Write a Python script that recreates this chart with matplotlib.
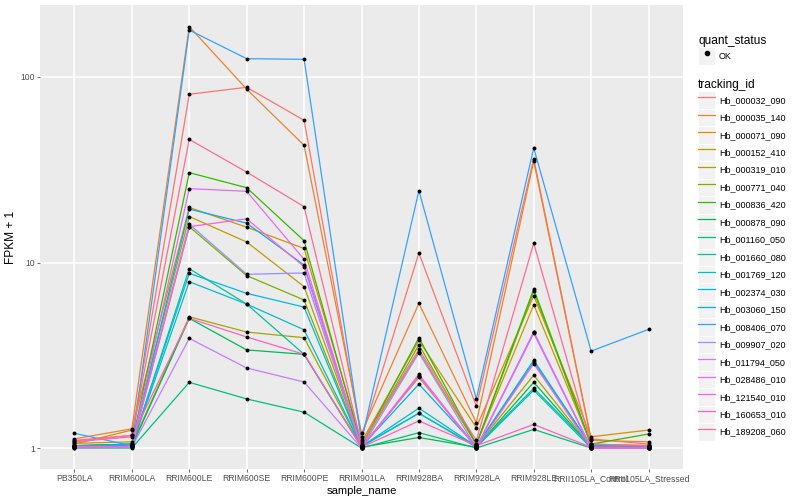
import matplotlib
matplotlib.use('Agg')
import matplotlib.pyplot as plt
from matplotlib import font_manager
from matplotlib.lines import Line2D
from matplotlib.patches import Rectangle
from matplotlib.legend_handler import HandlerLine2D
import numpy as np

plt.rcParams['font.family'] = ['Liberation Sans', 'DejaVu Sans']

# narrow face for the tick labels if there is one (R draws them quite tight)
installed = {f.name for f in font_manager.fontManager.ttflist}
if 'Liberation Sans Narrow' in installed:
    tick_font, tick_size = 'Liberation Sans Narrow', 7.2
else:
    tick_font, tick_size = 'Liberation Sans', 6.2

# x categories
samples = ['PB350LA', 'RRIM600LA', 'RRIM600LE', 'RRIM600SE', 'RRIM600PE',
           'RRIM901LA', 'RRIM928BA', 'RRIM928LA', 'RRIM928LE',
           'RRII105LA_Control', 'RRII105LA_Stressed']

tracking_ids = ['Hb_000032_090', 'Hb_000035_140', 'Hb_000071_090', 'Hb_000152_410',
                'Hb_000319_010', 'Hb_000771_040', 'Hb_000836_420', 'Hb_000878_090',
                'Hb_001160_050', 'Hb_001660_080', 'Hb_001769_120', 'Hb_002374_030',
                'Hb_003060_150', 'Hb_008406_070', 'Hb_009907_020', 'Hb_011794_050',
                'Hb_028486_010', 'Hb_121540_010', 'Hb_160653_010', 'Hb_189208_060']

# ggplot hue palette, 20 levels
colors = ['#F8766D', '#EA8331', '#D89000', '#C09B00', '#A3A500', '#7CAE00',
          '#39B600', '#00BB4E', '#00BF7D', '#00C1A3', '#00BFC4', '#00BAE0',
          '#00B0F6', '#35A2FF', '#9590FF', '#C77CFF', '#E76BF3', '#FA62DB',
          '#FF62BC', '#FF6C91']

# FPKM + 1 per gene, in sample order
hb_000032_090 = [1.10, 1.17, 80.7, 88.0, 58.4, 1.14, 11.25, 1.68, 36.3, 1.12, 1.05]
hb_000035_140 = [1.12, 1.27, 187.0, 86.0, 42.8, 1.20, 6.03, 1.37, 35.1, 1.10, 1.08]
hb_000071_090 = [1.05, 1.25, 19.8, 15.5, 11.9, 1.08, 3.80, 1.29, 6.62, 1.15, 1.25]
hb_000152_410 = [1.06, 1.08, 17.7, 12.9, 7.41, 1.04, 3.30, 1.05, 5.92, 1.05, 1.03]
hb_000319_010 = [1.03, 1.04, 5.10, 4.22, 3.93, 1.02, 2.40, 1.02, 2.47, 1.01, 1.01]
hb_000771_040 = [1.03, 1.05, 15.6, 8.50, 6.28, 1.03, 3.60, 1.04, 7.00, 1.03, 1.02]
hb_000836_420 = [1.03, 1.05, 30.5, 25.3, 13.1, 1.03, 3.93, 1.05, 7.20, 1.05, 1.19]
hb_000878_090 = [1.01, 1.02, 5.00, 3.38, 3.20, 1.01, 1.14, 1.01, 2.26, 1.01, 1.00]
hb_001160_050 = [1.00, 1.00, 2.26, 1.84, 1.56, 1.00, 1.21, 1.00, 1.26, 1.00, 1.00]
hb_001660_080 = [1.02, 1.03, 9.26, 5.97, 3.20, 1.02, 1.54, 1.02, 2.10, 1.02, 1.01]
hb_001769_120 = [1.02, 1.03, 7.88, 5.97, 4.34, 1.02, 1.54, 1.01, 2.05, 1.00, 1.00]
hb_002374_030 = [1.02, 1.04, 8.74, 6.82, 5.75, 1.02, 1.64, 1.02, 2.98, 1.02, 1.02]
hb_003060_150 = [1.02, 1.05, 19.4, 16.3, 9.69, 1.02, 2.21, 1.02, 2.90, 1.03, 1.02]
hb_008406_070 = [1.20, 1.03, 179.0, 125.5, 124.5, 1.10, 24.4, 1.84, 41.4, 3.33, 4.36]
hb_009907_020 = [1.01, 1.02, 16.1, 8.64, 8.78, 1.00, 3.26, 1.00, 4.15, 1.00, 1.00]
hb_011794_050 = [1.00, 1.01, 3.90, 2.70, 2.27, 1.00, 2.45, 1.00, 4.20, 1.00, 1.00]
hb_028486_010 = [1.02, 1.02, 25.0, 24.2, 10.4, 1.00, 2.50, 1.00, 4.24, 1.00, 1.00]
hb_121540_010 = [1.01, 1.02, 15.6, 17.2, 9.49, 1.00, 2.45, 1.00, 2.85, 1.00, 1.00]
hb_160653_010 = [1.08, 1.15, 5.00, 3.97, 3.20, 1.01, 1.40, 1.03, 1.34, 1.01, 1.01]
hb_189208_060 = [1.09, 1.17, 46.1, 30.7, 20.0, 1.05, 3.40, 1.10, 12.7, 1.05, 1.03]

series = [hb_000032_090, hb_000035_140, hb_000071_090, hb_000152_410, hb_000319_010,
          hb_000771_040, hb_000836_420, hb_000878_090, hb_001160_050, hb_001660_080,
          hb_001769_120, hb_002374_030, hb_003060_150, hb_008406_070, hb_009907_020,
          hb_011794_050, hb_028486_010, hb_121540_010, hb_160653_010, hb_189208_060]


class KeyHandler(HandlerLine2D):
    """legend key with the grey ggplot box behind it"""
    def create_artists(self, legend, orig_handle, xdescent, ydescent, width, height, fontsize, trans):
        bg = Rectangle((-xdescent, -ydescent), width, height, facecolor='#F2F2F2',
                       edgecolor='white', linewidth=0.6, transform=trans)
        arts = super().create_artists(legend, orig_handle, xdescent, ydescent,
                                      width, height, fontsize, trans)
        return [bg] + list(arts)


fig = plt.figure(figsize=(8, 5), dpi=100)
ax = fig.add_axes([40/800, 31/500, 643/800, 464/500])
ax.set_facecolor('#EBEBEB')
for s in ax.spines.values():
    s.set_visible(False)

x = np.arange(len(samples))
for vals, c in zip(series, colors):
    ax.plot(x, vals, color=c, lw=0.9, zorder=2)
for vals in series:
    ax.scatter(x, vals, s=8, color='black', zorder=3, linewidths=0)

ax.set_yscale('log')
ax.set_ylim(10**-0.113, 10**2.388)
ax.set_xlim(-0.6, len(samples) - 0.4)
ax.set_yticks([1, 10, 100])
ax.set_yticklabels(['1', '10', '100'], family=tick_font, size=tick_size)
ax.yaxis.set_minor_locator(matplotlib.ticker.NullLocator())
ax.set_xticks(x)
ax.set_xticklabels(samples, family=tick_font, size=tick_size)
ax.grid(True, color='white', lw=1.1, zorder=0)
ax.set_axisbelow(True)
ax.tick_params(length=2, width=0.5, color='#333333', labelcolor='#4D4D4D', pad=1.5)

ax.set_xlabel('sample_name', fontsize=8.1, labelpad=2)
ax.set_ylabel('FPKM + 1', fontsize=8.6, labelpad=2.5)

# legends
kw = dict(loc='upper left', frameon=False, fontsize=6.5, title_fontsize=8.6,
          handlelength=1.9, handleheight=2.6, handletextpad=0.4, borderpad=0.2,
          labelspacing=0.0, alignment='left', handler_map={Line2D: KeyHandler()})

ok_handle = Line2D([], [], marker='o', color='black', linestyle='none', markersize=3)
leg1 = fig.legend([ok_handle], ['OK'], title='quant_status',
                  bbox_to_anchor=(692/800, 1 - 29/500), **kw)

line_handles = [Line2D([], [], color=c, lw=0.9) for c in colors]
leg2 = fig.legend(line_handles, tracking_ids, title='tracking_id',
                  bbox_to_anchor=(692/800, 1 - 73/500), **kw)

fig.savefig('out.png', dpi=100)
